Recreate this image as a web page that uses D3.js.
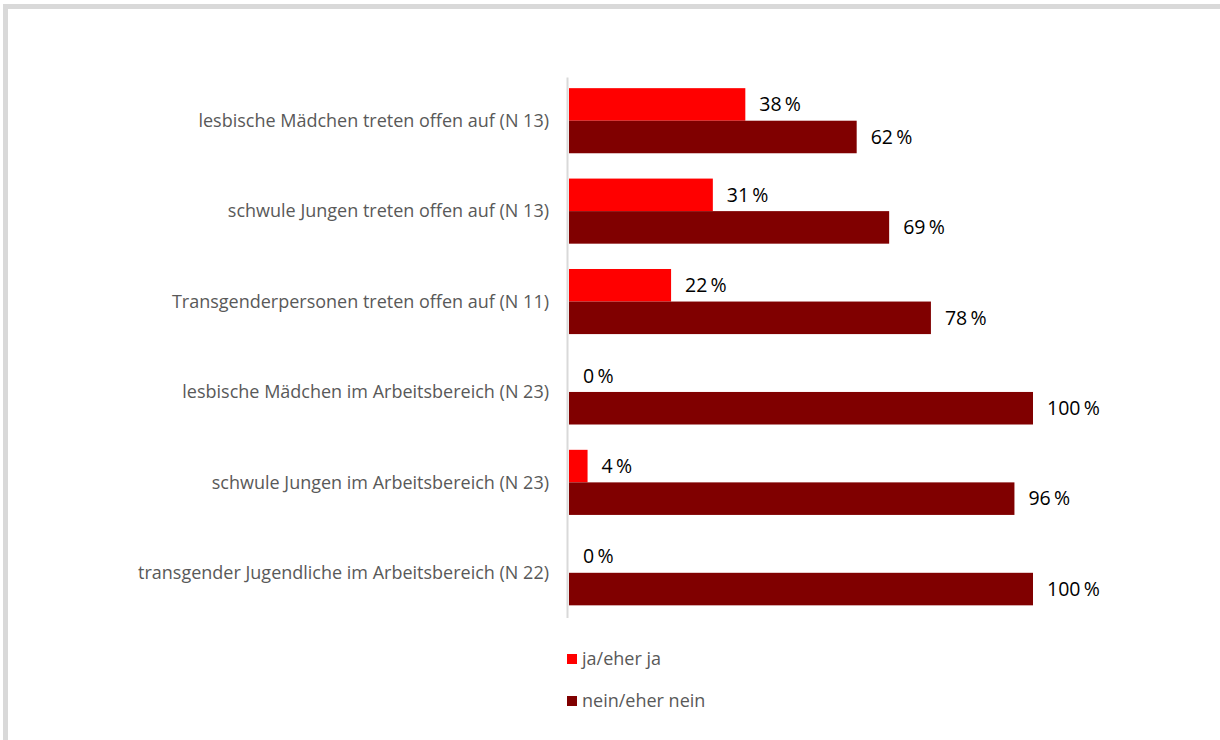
<!DOCTYPE html>
<html>
<head>
<meta charset="utf-8">
<title>Offenheit im Arbeitsbereich</title>
<script src="https://cdn.jsdelivr.net/npm/d3@7/dist/d3.min.js"></script>
<style>
  body { margin: 0; background: #fff; }
  svg { display: block; font-family: "Open Sans", "Noto Sans", sans-serif; }
  .cat { fill: #595959; font-size: 18px; }
  .val { fill: #000; font-size: 19.5px; }
  .leg { fill: #595959; font-size: 18px; }
</style>
</head>
<body>
<script>
var categories = [
  "lesbische Mädchen treten offen auf (N 13)",
  "schwule Jungen treten offen auf (N 13)",
  "Transgenderpersonen treten offen auf (N 11)",
  "lesbische Mädchen im Arbeitsbereich (N 23)",
  "schwule Jungen im Arbeitsbereich (N 23)",
  "transgender Jugendliche im Arbeitsbereich (N 22)"
];
var seriesNames = ["ja/eher ja", "nein/eher nein"];
var jaValues = [38, 31, 22, 0, 4, 0];
var neinValues = [62, 69, 78, 100, 96, 100];
var colors = ["#ff0000", "#800000"];

var width = 1220, height = 740;
var plotLeft = 569, plotRight = 1033, plotTop = 75.5, plotBottom = 618;

var svg = d3.select("body").append("svg")
    .attr("width", width)
    .attr("height", height);

// outer frame
svg.append("rect")
    .attr("x", 5.5).attr("y", 6.5)
    .attr("width", 1400).attr("height", 900)
    .attr("fill", "none")
    .attr("stroke", "#d9d9d9")
    .attr("stroke-width", 5);

var x = d3.scaleLinear().domain([0, 100]).range([plotLeft, plotRight]);
var y = d3.scaleBand().domain(categories).range([plotTop, plotBottom]).paddingInner(0.28).paddingOuter(0.14);
var sub = d3.scaleBand().domain(seriesNames).range([0, y.bandwidth()]);

var rows = categories.map(function(c, i) {
  return { cat: c, vals: [jaValues[i], neinValues[i]] };
});

// category labels
svg.append("g").selectAll("text")
    .data(categories)
  .enter().append("text")
    .attr("class", "cat")
    .attr("x", plotLeft - 20)
    .attr("y", function(d) { return y(d) + y.bandwidth() / 2; })
    .attr("dy", "0.35em")
    .attr("text-anchor", "end")
    .text(function(d) { return d; });

var g = svg.append("g").selectAll("g")
    .data(rows)
  .enter().append("g")
    .attr("transform", function(d) { return "translate(0," + y(d.cat) + ")"; });

g.selectAll("rect")
    .data(function(d) { return d.vals; })
  .enter().append("rect")
    .attr("x", x(0))
    .attr("y", function(d, i) { return sub(seriesNames[i]); })
    .attr("width", function(d) { return x(d) - x(0); })
    .attr("height", sub.bandwidth())
    .attr("fill", function(d, i) { return colors[i]; });

g.selectAll("text")
    .data(function(d) { return d.vals; })
  .enter().append("text")
    .attr("class", "val")
    .attr("x", function(d) { return x(d) + 14; })
    .attr("y", function(d, i) { return sub(seriesNames[i]) + sub.bandwidth() / 2; })
    .attr("dy", "0.35em")
    .text(function(d) { return d + "\u2009%"; });

// axis line
svg.append("line")
    .attr("x1", plotLeft - 1.5).attr("x2", plotLeft - 1.5)
    .attr("y1", plotTop + 2).attr("y2", plotBottom)
    .attr("stroke", "#d9d9d9")
    .attr("stroke-width", 2);

// legend
var leg = svg.append("g").selectAll("g")
    .data(seriesNames)
  .enter().append("g")
    .attr("transform", function(d, i) { return "translate(567," + (659 + i * 42) + ")"; });

leg.append("rect")
    .attr("x", 0).attr("y", -5)
    .attr("width", 10).attr("height", 10)
    .attr("fill", function(d, i) { return colors[i]; });

leg.append("text")
    .attr("class", "leg")
    .attr("x", 15)
    .attr("dy", "0.35em")
    .text(function(d) { return d; });
</script>
</body>
</html>
